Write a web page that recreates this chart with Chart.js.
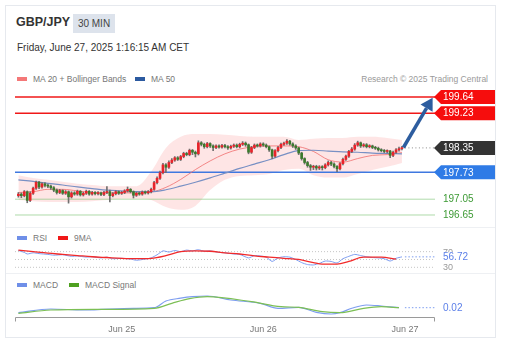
<!DOCTYPE html>
<html>
<head>
<meta charset="utf-8">
<title>GBP/JPY 30 MIN</title>
<script src="https://cdn.jsdelivr.net/npm/chart.js@4/dist/chart.umd.min.js"></script>
<style>
  body { margin: 0; background: #fff; font-family: "Liberation Sans", Arial, sans-serif; color: #333; }
  #page { position: relative; width: 510px; height: 354px; overflow: hidden; }
  .card { position: absolute; left: 5px; top: 5px; width: 491px; height: 333px; border: 1px solid #e6e9ee; box-sizing: border-box; }
  .sep { position: absolute; left: 6px; width: 489px; height: 1px; background: #eef0f3; }
  .abs { position: absolute; white-space: nowrap; }
  .title { left: 16px; top: 15px; font-size: 12.5px; font-weight: bold; line-height: 15px; color: #333; }
  .badge { left: 73px; top: 14px; width: 42px; height: 19px; line-height: 19px; text-align: center; font-size: 10px; background: #dde3ec; color: #444; }
  .date { left: 17px; top: 42px; font-size: 10px; line-height: 12px; color: #333; }
  .legend { font-size: 8.5px; line-height: 12px; color: #777; }
  .sw { display: inline-block; width: 10px; height: 4px; vertical-align: middle; margin: -2px 6px 0 0; }
  .credit { right: 22px; top: 73px; font-size: 8.5px; line-height: 12px; color: #9a9a9a; }
  canvas { position: absolute; left: 0; }
</style>
</head>
<body>
<div id="page">
  <div class="card"></div>
  <div class="sep" style="top:227px"></div>
  <div class="sep" style="top:273px"></div>

  <div class="abs title">GBP/JPY</div>
  <div class="abs badge">30 MIN</div>
  <div class="abs date">Friday, June 27, 2025 1:16:15 AM CET</div>

  <div class="abs legend" style="left:17px;top:73px"><span class="sw" style="background:#f47878"></span>MA 20 + Bollinger Bands</div>
  <div class="abs legend" style="left:135px;top:73px"><span class="sw" style="background:#2c5aa0"></span>MA 50</div>
  <div class="abs credit">Research © 2025 Trading Central</div>

  <div class="abs legend" style="left:17px;top:232px"><span class="sw" style="background:#6f8fe8"></span>RSI</div>
  <div class="abs legend" style="left:58px;top:232px"><span class="sw" style="background:#f01818"></span>9MA</div>

  <div class="abs legend" style="left:17px;top:279px"><span class="sw" style="background:#6f8fe8"></span>MACD</div>
  <div class="abs legend" style="left:69px;top:279px"><span class="sw" style="background:#4ea020"></span>MACD Signal</div>

  <canvas id="main" width="510" height="134" style="top:88px"></canvas>
  <canvas id="rsi" width="510" height="31" style="top:243px"></canvas>
  <canvas id="macd" width="510" height="50" style="top:288px"></canvas>
</div>

<script>
// candles, one per 30 min bar (index 0 = oldest)
const opens = [197.14,197.18,197.14,197.24,197.02,197.20,197.33,197.48,197.36,197.44,
  197.40,197.38,197.34,197.28,197.22,197.27,197.20,197.24,197.11,197.21,
  197.18,197.25,197.16,197.20,197.25,197.18,197.22,197.19,197.21,197.17,
  197.22,197.24,197.14,197.19,197.24,197.20,197.22,197.26,197.30,197.24,
  197.15,197.20,197.18,197.23,197.21,197.24,197.30,197.47,197.58,197.72,
  197.92,197.86,197.98,198.04,198.10,198.06,198.13,198.21,198.18,198.29,
  198.24,198.20,198.48,198.44,198.38,198.46,198.40,198.36,198.40,198.37,
  198.41,198.38,198.35,198.39,198.42,198.38,198.44,198.47,198.43,198.24,
  198.36,198.42,198.40,198.45,198.42,198.38,198.30,198.14,198.28,198.36,
  198.44,198.47,198.52,198.45,198.40,198.35,198.22,198.08,197.98,197.90,
  197.86,197.88,197.84,197.87,197.85,197.92,197.98,197.94,197.88,197.82,
  197.95,198.06,198.14,198.26,198.32,198.42,198.48,198.40,198.43,198.38,
  198.40,198.36,198.34,198.30,198.28,198.26,198.27,198.16,198.24,198.30,
  198.33]
const highs = [197.22,197.21,197.27,197.26,197.24,197.36,197.51,197.50,197.47,197.47,
  197.43,197.41,197.37,197.31,197.30,197.29,197.27,197.26,197.24,197.24,
  197.28,197.27,197.23,197.28,197.27,197.25,197.24,197.24,197.23,197.25,
  197.37,197.28,197.22,197.27,197.26,197.25,197.29,197.36,197.32,197.26,
  197.23,197.23,197.26,197.26,197.27,197.33,197.50,197.62,197.76,197.96,
  197.95,198.02,198.08,198.13,198.13,198.16,198.24,198.24,198.32,198.31,
  198.27,198.53,198.51,198.47,198.49,198.48,198.43,198.43,198.43,198.44,
  198.44,198.41,198.42,198.45,198.45,198.47,198.51,198.50,198.45,198.39,
  198.45,198.45,198.48,198.48,198.45,198.40,198.32,198.31,198.39,198.47,
  198.50,198.56,198.54,198.48,198.43,198.37,198.24,198.10,198.01,197.93,
  197.91,197.91,197.90,197.90,197.95,198.02,198.01,197.97,197.90,197.98,
  198.09,198.17,198.29,198.36,198.46,198.52,198.50,198.46,198.46,198.43,
  198.42,198.39,198.37,198.33,198.31,198.30,198.29,198.27,198.33,198.37,
  198.39]
const lows = [197.10,197.09,197.11,196.96,196.99,197.17,197.30,197.32,197.33,197.36,
  197.34,197.30,197.24,197.18,197.19,197.17,197.17,196.95,197.08,197.15,
  197.15,197.13,197.13,197.17,197.15,197.15,197.16,197.16,197.14,197.14,
  197.19,196.98,197.11,197.16,197.17,197.17,197.19,197.23,197.21,197.08,
  197.12,197.15,197.15,197.18,197.18,197.21,197.27,197.44,197.55,197.69,
  197.72,197.83,197.95,198.01,198.03,198.03,198.10,198.15,198.15,198.18,
  198.12,198.17,198.40,198.34,198.35,198.36,198.28,198.33,198.34,198.34,
  198.35,198.31,198.32,198.36,198.35,198.35,198.41,198.39,198.20,198.21,
  198.33,198.37,198.37,198.39,198.35,198.26,198.08,198.11,198.25,198.33,
  198.41,198.44,198.42,198.36,198.31,198.18,198.04,197.94,197.86,197.78,
  197.80,197.79,197.80,197.79,197.82,197.89,197.90,197.84,197.75,197.79,
  197.92,198.03,198.11,198.23,198.29,198.39,198.36,198.37,198.35,198.35,
  198.33,198.31,198.27,198.25,198.23,198.22,198.10,198.13,198.21,198.27,
  198.30]
const closes = [197.18,197.14,197.24,197.02,197.20,197.33,197.48,197.36,197.44,197.40,
  197.38,197.34,197.28,197.22,197.27,197.20,197.24,197.11,197.21,197.18,
  197.25,197.16,197.20,197.25,197.18,197.22,197.19,197.21,197.17,197.22,
  197.24,197.14,197.19,197.24,197.20,197.22,197.26,197.30,197.24,197.15,
  197.20,197.18,197.23,197.21,197.24,197.30,197.47,197.58,197.72,197.92,
  197.86,197.98,198.04,198.10,198.06,198.13,198.21,198.18,198.29,198.24,
  198.20,198.48,198.44,198.38,198.46,198.40,198.36,198.40,198.37,198.41,
  198.38,198.35,198.39,198.42,198.38,198.44,198.47,198.43,198.24,198.36,
  198.42,198.40,198.45,198.42,198.38,198.30,198.14,198.28,198.36,198.44,
  198.47,198.52,198.45,198.40,198.35,198.22,198.08,197.98,197.90,197.86,
  197.88,197.84,197.87,197.85,197.92,197.98,197.94,197.88,197.82,197.95,
  198.06,198.14,198.26,198.32,198.42,198.48,198.40,198.43,198.38,198.40,
  198.36,198.34,198.30,198.28,198.26,198.27,198.16,198.24,198.30,198.33,
  198.35]

// moving averages and bands, read every 5 bars
const maIdx = [0,5,10,15,20,25,30,35,40,45,50,55,60,65,70,75,80,85,90,95,100,105,110,115,120,125,130]
const ma20 = [197.22,197.24,197.30,197.30,197.26,197.22,197.21,197.21,197.21,197.23,197.35,197.55,197.80,198.02,198.20,198.32,198.38,198.40,198.40,198.38,198.26,198.05,197.99,198.08,198.16,198.18,198.23]
const ma50 = [197.54,197.50,197.45,197.41,197.36,197.32,197.28,197.26,197.24,197.24,197.29,197.38,197.48,197.59,197.71,197.83,197.94,198.05,198.18,198.28,198.29,198.27,198.25,198.24,198.22,198.21,198.20]
const bbUpper = [197.66,197.59,197.54,197.49,197.44,197.41,197.38,197.38,197.38,197.75,198.35,198.63,198.70,198.70,198.68,198.65,198.63,198.63,198.63,198.55,198.58,198.60,198.60,198.63,198.63,198.60,198.55]
const bbLower = [197.03,197.00,196.98,196.98,196.98,197.00,197.03,197.06,197.06,197.03,196.85,196.78,196.88,197.28,197.54,197.64,197.66,197.69,197.79,197.82,197.66,197.60,197.60,197.69,197.79,197.87,197.97]

// price levels on the right (targets, last price, pivot, supports)
const levels = [199.64, 199.23, 198.35, 197.73, 197.05, 196.65]
const arrowFrom = [130.5, 198.36]
const arrowTo = [140.4, 199.62]

// RSI panel
const rsiIdx = [0,2,3,5,7,10,12,15,18,20,23,25,28,30,32,35,38,40,43,45,47,49,51,53,55,57,59,61,63,65,68,70,73,75,78,80,82,84,86,88,90,92,94,96,98,100,102,104,106,108,110,112,114,116,118,120,122,124,126,128,130]
const rsi = [73,68,64,67,65,63,61,62,58,59,56,57,54,56,52,53,51,48,51,54,62,72,69,73,70,74,72,75,71,72,68,67,64,63,54,60,59,56,45,54,57,56,50,42,37,36,40,46,45,41,52,58,63,60,57,55,54,52,46,53,56.72]
const rsiMaIdx = [0,5,10,15,20,25,30,35,40,45,50,55,60,65,70,75,80,85,90,95,100,103,108,112,117,123,128]
const rsiMa = [74,70,66,63,60,57,55,53,52,53,60,70,72,71,67,64,59,56,53,50,42,38,38,45,56,56,51]
const rsiLevels = [70, 50, 30]
const rsiLast = 56.72

// MACD panel
const macdIdx = [0,11,22,39,46,50,55,59,64,72,82,88,95,101,106,109,113,118,123,129]
const macd = [-0.03,0.007,-0.003,0.014,0.02,0.087,0.115,0.13,0.137,0.097,0.064,0.014,0.024,-0.026,-0.043,-0.03,0.014,0.047,0.037,0.02]
const signalIdx = [0,11,28,46,52,58,64,79,89,95,103,109,117,123,129]
const signal = [-0.036,-0.003,0.004,0.014,0.064,0.11,0.13,0.08,0.03,0.024,-0.02,-0.03,0.014,0.03,0.02]
const macdLast = 0.02

// x axis
const tickIdx = [35, 83, 131]
const tickLabels = ['Jun 25', 'Jun 26', 'Jun 27']

const X_MIN = -1.15
const X_MAX = 141.2
const LAST = closes.length
const FONT = '"Liberation Sans", Arial, sans-serif'
const UP = '#e8232a'
const DOWN = '#3b7a2c'
const BLUE_LINE = '#7d9df0'

const levelStyle = [
  { line: '#f01818', width: 1.5, tag: '#f60d0d', text: '#fff' },
  { line: '#f01818', width: 1.5, tag: '#f60d0d', text: '#fff' },
  { line: '#8a8a8a', width: 1, dash: [1, 2.5], from: LAST, tag: '#333', text: '#fff' },
  { line: '#3f78e0', width: 1.5, tag: '#2f7be6', text: '#fff' },
  { line: 'rgba(110,190,100,0.55)', width: 1, tag: null, text: '#3d9a35' },
  { line: 'rgba(110,190,100,0.55)', width: 1, tag: null, text: '#3d9a35' }
]

const pts = (xs, ys) => xs.map((x, k) => ({ x, y: ys[k] }))
const flat = (v, from = X_MIN) => [{ x: from, y: v }, { x: X_MAX, y: v }]
const lineDs = (data, color, width, extra) => Object.assign({
  type: 'line', data, borderColor: color, borderWidth: width, pointRadius: 0, fill: false
}, extra)

const baseOptions = (yMin, yMax, padTop, padBottom) => ({
  responsive: false,
  animation: false,
  events: [],
  layout: { padding: { left: 15, right: 75, top: padTop, bottom: padBottom } },
  plugins: { legend: { display: false }, tooltip: { enabled: false } },
  scales: {
    x: { type: 'linear', display: false, min: X_MIN, max: X_MAX, offset: false },
    y: { display: false, min: yMin, max: yMax }
  }
})

// right hand value tag, with a pointed left side when it has a box
function drawTag(chart, v, text, bg, fg, size) {
  const { ctx, chartArea } = chart
  const y = chart.scales.y.getPixelForValue(v)
  const x0 = chartArea.right
  ctx.save()
  if (bg) {
    ctx.fillStyle = bg
    ctx.beginPath()
    ctx.moveTo(x0 - 1, y)
    ctx.lineTo(x0 + 6, y - 7)
    ctx.lineTo(x0 + 60, y - 7)
    ctx.lineTo(x0 + 60, y + 7)
    ctx.lineTo(x0 + 6, y + 7)
    ctx.closePath()
    ctx.fill()
  }
  ctx.fillStyle = fg
  ctx.font = (size || 10) + 'px ' + FONT
  ctx.textBaseline = 'middle'
  ctx.fillText(text, x0 + 8, y + 0.5)
  ctx.restore()
}

const mainTags = {
  id: 'mainTags',
  afterDraw(chart) {
    levels.forEach((v, k) => drawTag(chart, v, v.toFixed(2), levelStyle[k].tag, levelStyle[k].text))
  }
}

const arrowPlugin = {
  id: 'arrow',
  afterDatasetsDraw(chart) {
    const { ctx, scales: { x, y } } = chart
    const x0 = x.getPixelForValue(arrowFrom[0]), y0 = y.getPixelForValue(arrowFrom[1])
    const x1 = x.getPixelForValue(arrowTo[0]), y1 = y.getPixelForValue(arrowTo[1])
    const a = Math.atan2(y1 - y0, x1 - x0)
    const bx = x1 - 12 * Math.cos(a), by = y1 - 12 * Math.sin(a)
    ctx.save()
    ctx.strokeStyle = ctx.fillStyle = '#2d5d9f'
    ctx.lineWidth = 3.5
    ctx.beginPath()
    ctx.moveTo(x0, y0)
    ctx.lineTo(bx, by)
    ctx.stroke()
    ctx.beginPath()
    ctx.moveTo(x1, y1)
    ctx.lineTo(bx + 7 * Math.sin(a), by - 7 * Math.cos(a))
    ctx.lineTo(bx - 7 * Math.sin(a), by + 7 * Math.cos(a))
    ctx.closePath()
    ctx.fill()
    ctx.restore()
  }
}

const candleColor = c => closes[c.dataIndex] >= opens[c.dataIndex] ? UP : DOWN

new Chart(document.getElementById('main'), {
  type: 'bar',
  data: {
    datasets: [
      lineDs(pts(maIdx, bbUpper), 'transparent', 0, { order: 20, cubicInterpolationMode: 'monotone' }),
      lineDs(pts(maIdx, bbLower), 'transparent', 0, { order: 20, cubicInterpolationMode: 'monotone', fill: '-1', backgroundColor: 'rgba(250,160,160,0.28)' }),
      ...levels.map((v, k) => lineDs(flat(v, levelStyle[k].from), levelStyle[k].line, levelStyle[k].width, { order: 15, borderDash: levelStyle[k].dash || [] })),
      lineDs(pts(maIdx, ma50), '#7890c4', 1.2, { order: 5, cubicInterpolationMode: 'monotone' }),
      lineDs(pts(maIdx, ma20), 'rgba(240,110,110,0.8)', 1, { order: 5, cubicInterpolationMode: 'monotone' }),
      {
        type: 'bar', order: 3, grouped: false, barThickness: 1,
        data: lows.map((l, i) => ({ x: i, y: [l, highs[i]] })),
        backgroundColor: '#707070'
      },
      {
        type: 'bar', order: 2, grouped: false, barThickness: 2, minBarLength: 1,
        data: opens.map((o, i) => ({ x: i, y: [o, closes[i]] })),
        backgroundColor: candleColor
      }
    ]
  },
  options: baseOptions(196.523, 199.817, 2, 2),
  plugins: [arrowPlugin, mainTags]
})

const rsiTags = {
  id: 'rsiTags',
  afterDraw(chart) {
    const { ctx, chartArea } = chart
    drawTag(chart, 70, '70', null, '#9a9a9a', 9)
    drawTag(chart, 30, '30', null, '#9a9a9a', 9)
    const y = chart.scales.y.getPixelForValue(rsiLast)
    ctx.fillStyle = '#fff'
    ctx.fillRect(chartArea.right + 6, y - 4.5, 40, 9.5)
    drawTag(chart, rsiLast, rsiLast.toFixed(2), null, '#5b7fe8', 10)
  }
}

new Chart(document.getElementById('rsi'), {
  type: 'line',
  data: {
    datasets: [
      ...rsiLevels.map(v => lineDs(flat(v), '#c5c5c5', 1, { order: 10, borderDash: [1, 2] })),
      lineDs(flat(rsiLast, LAST), BLUE_LINE, 1, { order: 9, borderDash: [1.5, 2] }),
      lineDs(pts(rsiMaIdx, rsiMa), '#f22a2a', 1.3, { order: 1, cubicInterpolationMode: 'monotone' }),
      lineDs(pts(rsiIdx, rsi), BLUE_LINE, 1, { order: 2, tension: 0.2 })
    ]
  },
  options: baseOptions(18, 87, 2, 2),
  plugins: [rsiTags]
})

const macdAxis = {
  id: 'macdAxis',
  afterDraw(chart) {
    const { ctx, chartArea } = chart
    const x = chart.scales.x
    const yb = chartArea.bottom + 0.5
    ctx.save()
    ctx.strokeStyle = '#9a9a9a'
    ctx.lineWidth = 1
    ctx.beginPath()
    ctx.moveTo(chartArea.left + 0.5, yb + 4)
    ctx.lineTo(chartArea.left + 0.5, yb)
    ctx.lineTo(chartArea.right - 0.5, yb)
    ctx.lineTo(chartArea.right - 0.5, yb + 4)
    ctx.stroke()
    ctx.fillStyle = '#777'
    ctx.font = '9px ' + FONT
    ctx.textAlign = 'center'
    ctx.textBaseline = 'middle'
    tickIdx.forEach((t, k) => ctx.fillText(tickLabels[k], x.getPixelForValue(t), yb + 12))
    ctx.restore()
    drawTag(chart, macdLast, macdLast.toFixed(2), null, '#5b7fe8', 10)
  }
}

new Chart(document.getElementById('macd'), {
  type: 'line',
  data: {
    datasets: [
      lineDs(flat(macdLast, LAST), BLUE_LINE, 1, { order: 9, borderDash: [1.5, 2] }),
      lineDs(pts(signalIdx, signal), '#7cbf55', 1.2, { order: 2, cubicInterpolationMode: 'monotone' }),
      lineDs(pts(macdIdx, macd), BLUE_LINE, 1.2, { order: 3, cubicInterpolationMode: 'monotone' })
    ]
  },
  options: baseOptions(-0.073, 0.177, 4, 21),
  plugins: [macdAxis]
})
</script>
</body>
</html>
